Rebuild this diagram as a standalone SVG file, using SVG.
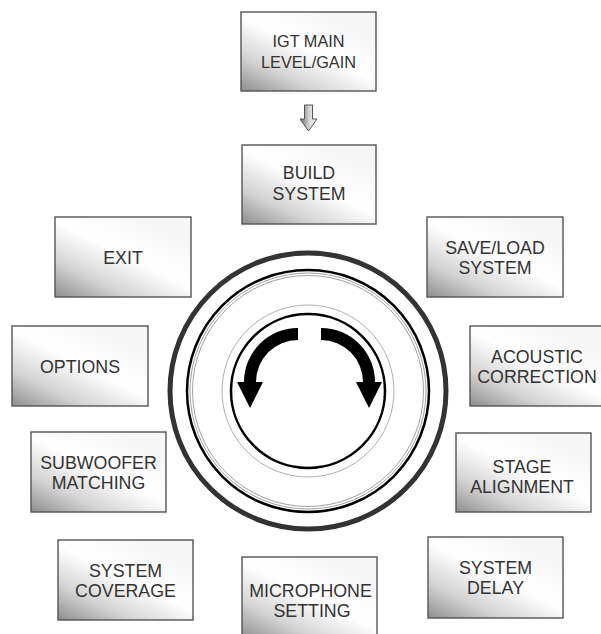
<svg xmlns="http://www.w3.org/2000/svg" width="601" height="634" viewBox="0 0 601 634">
<defs>
<linearGradient id="boxg" x1="0" y1="1" x2="0.75" y2="0.1">
<stop offset="0" stop-color="#8e8e8e"/>
<stop offset="0.3" stop-color="#d4d4d4"/>
<stop offset="0.62" stop-color="#ffffff"/>
<stop offset="1" stop-color="#f6f6f6"/>
</linearGradient>
<linearGradient id="arrg" x1="0" y1="0" x2="1" y2="0">
<stop offset="0" stop-color="#6a6a6a"/>
<stop offset="0.55" stop-color="#d8d8d8"/>
<stop offset="1" stop-color="#f4f4f4"/>
</linearGradient>
</defs>
<style>
.box{fill:url(#boxg);stroke:#555;stroke-width:1.4}
.t{font-family:"Liberation Sans",Arial,sans-serif;font-size:17.8px;fill:#333;text-anchor:middle}
.ts{font-size:16.3px}
</style>
<rect width="601" height="634" fill="#fff"/>
<g id="connectors">
<polygon points="304.5,105 312.5,105 312.5,119 317,119 308.5,131 300,119 304.5,119" fill="url(#arrg)" stroke="#555" stroke-width="1"/>
</g>
<g id="dial">
<circle cx="308" cy="391" r="138" fill="none" stroke="#333" stroke-width="5"/>
<circle cx="308" cy="391" r="121" fill="none" stroke="#000" stroke-width="2.5"/>
<circle cx="308" cy="391" r="118" fill="none" stroke="#888" stroke-width="0.8"/>
<circle cx="308" cy="391" r="115.5" fill="none" stroke="#888" stroke-width="0.8"/>
<circle cx="308" cy="391" r="86" fill="none" stroke="#999" stroke-width="0.8"/>
<circle cx="308" cy="391" r="77" fill="none" stroke="#000" stroke-width="2.5"/>
<path d="M298,328 A54,54 0 0 0 244,382 L237,382 L250,408 L263,382 L256,382 A42,42 0 0 1 298,340 Z" fill="#000"/>
<path d="M321,328 A54,54 0 0 1 375,382 L382,382 L369,408 L356,382 L363,382 A42,42 0 0 0 321,340 Z" fill="#000"/>
</g>
<g id="igt">
<rect class="box" x="241" y="12" width="135" height="79"/>
<text class="t ts" x="308.5" y="46.7">IGT MAIN</text>
<text class="t ts" x="308.5" y="67.7">LEVEL/GAIN</text>
</g>
<g id="build">
<rect class="box" x="242" y="145" width="134" height="79"/>
<text class="t" x="309" y="178.5">BUILD</text>
<text class="t" x="309" y="200">SYSTEM</text>
</g>
<g id="exit">
<rect class="box" x="55" y="217" width="136" height="80"/>
<text class="t" x="123" y="264">EXIT</text>
</g>
<g id="saveload">
<rect class="box" x="427" y="217" width="136" height="80"/>
<text class="t" x="495" y="253.5">SAVE/LOAD</text>
<text class="t" x="495" y="273.5">SYSTEM</text>
</g>
<g id="options">
<rect class="box" x="12" y="326" width="136" height="80"/>
<text class="t" x="80" y="372.5">OPTIONS</text>
</g>
<g id="acoustic">
<rect class="box" x="470" y="326" width="134" height="80"/>
<text class="t" x="537" y="363.3">ACOUSTIC</text>
<text class="t" x="537" y="383">CORRECTION</text>
</g>
<g id="subwoofer">
<rect class="box" x="31" y="432" width="135" height="80"/>
<text class="t" x="98.5" y="469">SUBWOOFER</text>
<text class="t" x="98.5" y="489">MATCHING</text>
</g>
<g id="stage">
<rect class="box" x="456" y="433" width="135" height="79"/>
<text class="t" x="522" y="472.7">STAGE</text>
<text class="t" x="522" y="492.7">ALIGNMENT</text>
</g>
<g id="coverage">
<rect class="box" x="58" y="540" width="135" height="80"/>
<text class="t" x="125.5" y="576.7">SYSTEM</text>
<text class="t" x="125.5" y="596.7">COVERAGE</text>
</g>
<g id="delay">
<rect class="box" x="428" y="537" width="135" height="81"/>
<text class="t" x="495.5" y="574">SYSTEM</text>
<text class="t" x="495.5" y="594">DELAY</text>
</g>
<g id="microphone">
<rect class="box" x="242" y="557" width="135" height="82"/>
<text class="t" x="310.5" y="596.7">MICROPHONE</text>
<text class="t" x="312" y="616.7">SETTING</text>
</g>
</svg>
